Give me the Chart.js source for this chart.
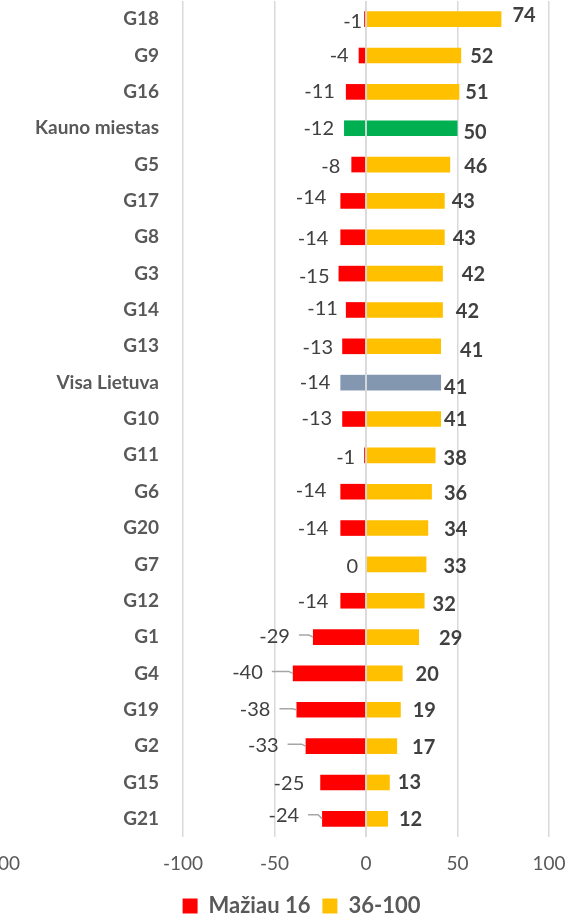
<!DOCTYPE html>
<html>
<head>
<meta charset="utf-8">
<script src="https://cdn.jsdelivr.net/npm/chart.js@4/dist/chart.umd.min.js"></script>
<style>
  html, body { margin: 0; background: #fff; }
  #wrap { width: 569px; height: 916px; position: relative; }
</style>
</head>
<body>
<div id="wrap"><canvas id="chart"></canvas></div>
<script>
const categories = [
  "G18", "G9", "G16", "Kauno miestas", "G5", "G17", "G8", "G3", "G14", "G13",
  "Visa Lietuva", "G10", "G11", "G6", "G20", "G7", "G12", "G1", "G4", "G19",
  "G2", "G15", "G21"
];
const below16 = [-1, -4, -11, -12, -8, -14, -14, -15, -11, -13, -14, -13, -1, -14, -14, 0, -14, -29, -40, -38, -33, -25, -24];
const from36to100 = [74, 52, 51, 50, 46, 43, 43, 42, 42, 41, 41, 41, 38, 36, 34, 33, 32, 29, 20, 19, 17, 13, 12];
const seriesNames = ["Mažiau 16", "36-100"];
const xMin = -200, xMax = 100, xStep = 50;

// label placement (Excel had these nudged by hand), px
const negGap = [2, 10, 11, 10, 11, 14, 12, 9, 8, 9, 10, 10, 9, 14, 12, 8, 12, 23, 30, 26, 27, 16, 23];
const negDy  = [2, 0, 0, 0, 2, -3, 1, 3, -1, 1, 0, 0, 2, -1, 1, 2, 1, -1, -1, 0, -1, 1, -3];
const posGap = [11, 9, 6, 6, 14, 7, 8, 19, 13, 19, 3, 3, 8, 12, 16, 17, 8, 20, 13, 12, 15, 8, 11];
const posDy  = [-4, 1, 1, 4, 2, 1, 1, 1, 2, 4, 5, 1, 3, 2, 2, 2, 4, 1, 1, 1, 1, 0, 1];
const leaderRows = new Set(["G1", "G4", "G19", "G2", "G21"]);

const RED = "#FF0000", YELLOW = "#FFC000", GREEN = "#00B050", SLATE = "#8497B0";
const GRID = "#D9D9D9", AXIS_TEXT = "#595959", LABEL_TEXT = "#404040";
const FONT = "Lato";

function barColor(i, base) {
  const name = categories[i];
  if (name === "Kauno miestas") return GREEN;
  if (name === "Visa Lietuva") return SLATE;
  return base;
}

// y labels are mirrored into the plot area, right edge at ~159px
const measure = document.createElement("canvas").getContext("2d");
measure.font = `bold 19px ${FONT}`;
const widest = Math.max(...categories.map(c => measure.measureText(c).width));

const barLabels = {
  id: "barLabels",
  afterLayout(chart) {
    // excel legend sits a bit right of centre
    if (chart.legend) { chart.legend.left += 27; chart.legend.right += 27; }
  },
  afterDatasetsDraw(chart) {
    const { ctx, chartArea } = chart;
    const x0 = chart.scales.x.getPixelForValue(0);
    ctx.save();
    ctx.strokeStyle = GRID;
    ctx.lineWidth = 1.5;
    ctx.beginPath();
    ctx.moveTo(x0, chartArea.top);
    ctx.lineTo(x0, chartArea.bottom);
    ctx.stroke();

    ctx.textBaseline = "middle";
    ctx.fillStyle = LABEL_TEXT;
    ctx.font = `20px ${FONT}`;
    ctx.textAlign = "right";
    chart.getDatasetMeta(0).data.forEach((bar, i) => {
      const right = bar.x - negGap[i];
      const y = bar.y + negDy[i];
      ctx.fillText(String(below16[i]), right, y);
      if (leaderRows.has(categories[i])) {
        ctx.strokeStyle = "#A6A6A6";
        ctx.lineWidth = 1.5;
        ctx.beginPath();
        ctx.moveTo(right + 9, y - 1);
        ctx.lineTo(bar.x - 4, y - 1);
        ctx.lineTo(bar.x, bar.y);
        ctx.stroke();
      }
    });

    ctx.font = `bold 20px ${FONT}`;
    ctx.textAlign = "left";
    chart.getDatasetMeta(1).data.forEach((bar, i) => {
      ctx.fillText(String(from36to100[i]), bar.x + posGap[i], bar.y + posDy[i]);
    });
    ctx.restore();
  }
};

new Chart(document.getElementById("chart"), {
  type: "bar",
  data: {
    labels: categories,
    datasets: [
      {
        label: seriesNames[0],
        data: below16,
        backgroundColor: c => barColor(c.dataIndex, RED),
        borderWidth: 0,
        categoryPercentage: 0.43,
        barPercentage: 1,
      },
      {
        label: seriesNames[1],
        data: from36to100,
        backgroundColor: c => barColor(c.dataIndex, YELLOW),
        borderWidth: 0,
        categoryPercentage: 0.43,
        barPercentage: 1,
      },
    ],
  },
  options: {
    indexAxis: "y",
    animation: false,
    responsive: true,
    maintainAspectRatio: false,
    layout: { padding: { top: 1, right: 20, left: 0, bottom: -11 } },
    plugins: {
      tooltip: { enabled: false },
      legend: {
        position: "bottom",
        labels: {
          color: AXIS_TEXT,
          boxWidth: 15,
          boxHeight: 15,
          padding: 12,
          font: { family: FONT, size: 22, weight: "bold" },
        },
      },
    },
    scales: {
      x: {
        type: "linear",
        stacked: true,
        min: xMin,
        max: xMax,
        border: { display: false },
        grid: {
          drawTicks: false,
          lineWidth: 1.5,
          color: c => (c.tick && c.tick.value >= -100 ? GRID : "rgba(0,0,0,0)"),
        },
        ticks: {
          stepSize: xStep,
          autoSkip: false,
          maxRotation: 0,
          padding: 15,
          color: AXIS_TEXT,
          font: { family: FONT, size: 19 },
          callback: v => (v === -150 ? "" : v),
        },
        afterFit: s => { s.paddingLeft = 0; s.paddingRight = 0; s.height = 46; },
      },
      y: {
        stacked: true,
        border: { display: false },
        grid: { display: false, drawTicks: false },
        ticks: {
          mirror: true,
          crossAlign: "far",
          padding: 159 - widest,
          color: AXIS_TEXT,
          font: { family: FONT, size: 19, weight: "bold" },
        },
        afterFit: s => { s.width = 0; s.paddingTop = 0; s.paddingBottom = 0; },
      },
    },
  },
  plugins: [barLabels],
});
</script>
</body>
</html>
